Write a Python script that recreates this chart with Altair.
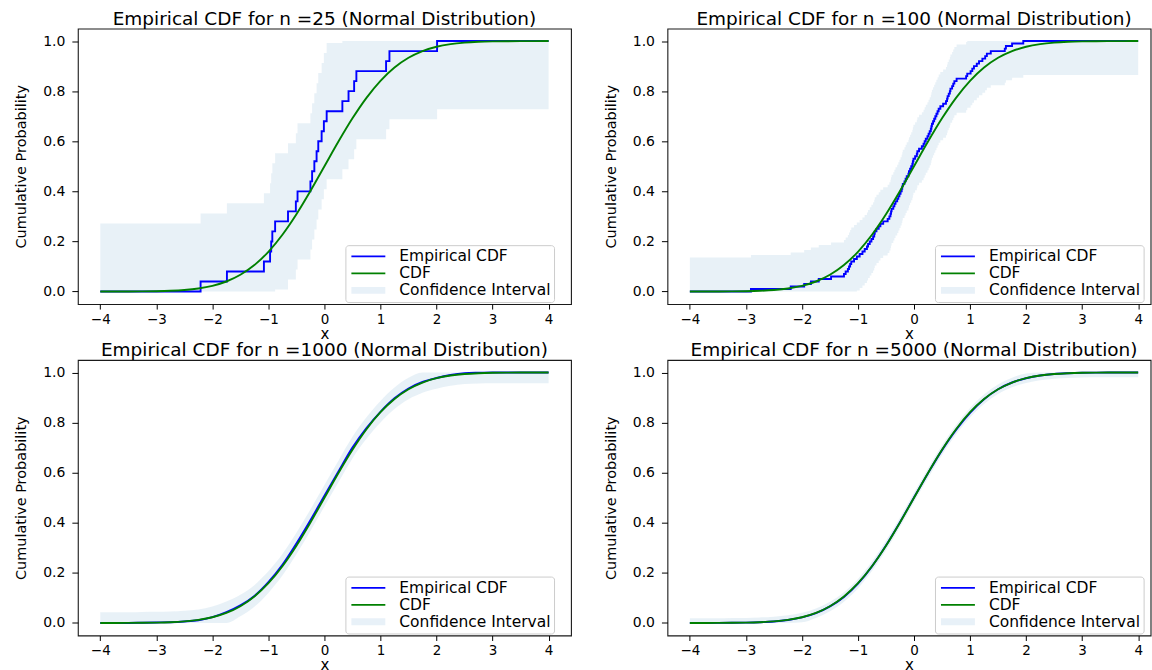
import altair as alt
import pandas as pd

# ------------------------------------------------------------------ data
SERIES = ["Empirical CDF", "CDF", "Confidence Interval"]
SERIES_COLORS = ["#0000ff", "#008000", "transparent"]
BAND_COLOR = "#1f77b4"
TITLES = [
    "Empirical CDF for n =25 (Normal Distribution)",
    "Empirical CDF for n =100 (Normal Distribution)",
    "Empirical CDF for n =1000 (Normal Distribution)",
    "Empirical CDF for n =5000 (Normal Distribution)",
]
X_TICKS = [-4, -3, -2, -1, 0, 1, 2, 3, 4]
Y_TICKS = [0.0, 0.2, 0.4, 0.6, 0.8, 1.0]

# smooth grid used for the theoretical CDF and the large-n panels
x_grid = [-4.0, -3.75, -3.5, -3.25, -3.0, -2.75, -2.5, -2.25, -2.0, -1.75, -1.5,
          -1.25, -1.0, -0.75, -0.5, -0.25, 0.0, 0.25, 0.5, 0.75, 1.0, 1.25, 1.5,
          1.75, 2.0, 2.25, 2.5, 2.75, 3.0, 3.25, 3.5, 3.75, 4.0]
cdf_grid = [0.00003, 0.00009, 0.00023, 0.00058, 0.00135, 0.00298, 0.00621, 0.01222,
            0.02275, 0.04006, 0.06681, 0.10565, 0.15866, 0.22663, 0.30854, 0.40129,
            0.5, 0.59871, 0.69146, 0.77337, 0.84134, 0.89435, 0.93319, 0.95994,
            0.97725, 0.98778, 0.99379, 0.99702, 0.99865, 0.99942, 0.99977, 0.99991,
            0.99997]

# n = 25 (step function)
x_25 = [-4.0, -2.21, -1.74, -1.08, -0.97, -0.95, -0.93, -0.88, -0.65, -0.51, -0.48,
        -0.25, -0.22, -0.18, -0.14, -0.11, -0.05, -0.01, 0.04,
        0.32, 0.43, 0.53, 0.57, 1.10, 1.16, 2.01, 4.0]
ecdf_25 = [0.0, 0.04, 0.08, 0.12, 0.16, 0.20, 0.24, 0.28, 0.32, 0.36, 0.40,
           0.44, 0.48, 0.52, 0.56, 0.60, 0.64, 0.68, 0.72,
           0.76, 0.80, 0.84, 0.88, 0.92, 0.96, 1.0, 1.0]
lo_25 = [0.0, 0.0, 0.0, 0.0, 0.0, 0.0, 0.0, 0.008, 0.048, 0.088, 0.128,
         0.168, 0.208, 0.248, 0.288, 0.328, 0.368, 0.408, 0.448,
         0.488, 0.528, 0.568, 0.608, 0.648, 0.688, 0.728, 0.728]
hi_25 = [0.272, 0.312, 0.352, 0.392, 0.432, 0.472, 0.512, 0.552, 0.592, 0.632, 0.672,
         0.712, 0.752, 0.792, 0.832, 0.872, 0.912, 0.952, 0.992,
         1.0, 1.0, 1.0, 1.0, 1.0, 1.0, 1.0, 1.0]

# n = 100 (step function)
x_100 = [-4.0,
         -2.91, -2.20, -1.96, -1.84, -1.70, -1.48, -1.25, -1.22, -1.18, -1.16,
         -1.14, -1.12, -1.07, -1.02, -0.97, -0.92, -0.88, -0.84, -0.82, -0.79,
         -0.76, -0.73, -0.71, -0.70, -0.67, -0.63, -0.60, -0.55, -0.47, -0.44,
         -0.42, -0.41, -0.40, -0.37, -0.35, -0.33, -0.30, -0.28, -0.26, -0.24,
         -0.22, -0.21, -0.20, -0.17, -0.15, -0.13, -0.10, -0.09, -0.07, -0.05,
         -0.03, -0.02, -0.01, 0.02, 0.05, 0.06, 0.09, 0.14, 0.17, 0.19,
         0.21, 0.24, 0.26, 0.28, 0.30, 0.31, 0.32, 0.34, 0.36, 0.38,
         0.40, 0.42, 0.44, 0.47, 0.52, 0.57, 0.59, 0.60, 0.62, 0.64,
         0.65, 0.68, 0.70, 0.72, 0.76, 0.93, 0.95, 1.01, 1.04, 1.07,
         1.12, 1.16, 1.22, 1.27, 1.30, 1.37, 1.62, 1.64, 1.75, 1.95,
         4.0]
ecdf_100 = [0.00,
            0.01, 0.02, 0.03, 0.04, 0.05, 0.06, 0.07, 0.08, 0.09, 0.10,
            0.11, 0.12, 0.13, 0.14, 0.15, 0.16, 0.17, 0.18, 0.19, 0.20,
            0.21, 0.22, 0.23, 0.24, 0.25, 0.26, 0.27, 0.28, 0.29, 0.30,
            0.31, 0.32, 0.33, 0.34, 0.35, 0.36, 0.37, 0.38, 0.39, 0.40,
            0.41, 0.42, 0.43, 0.44, 0.45, 0.46, 0.47, 0.48, 0.49, 0.50,
            0.51, 0.52, 0.53, 0.54, 0.55, 0.56, 0.57, 0.58, 0.59, 0.60,
            0.61, 0.62, 0.63, 0.64, 0.65, 0.66, 0.67, 0.68, 0.69, 0.70,
            0.71, 0.72, 0.73, 0.74, 0.75, 0.76, 0.77, 0.78, 0.79, 0.80,
            0.81, 0.82, 0.83, 0.84, 0.85, 0.86, 0.87, 0.88, 0.89, 0.90,
            0.91, 0.92, 0.93, 0.94, 0.95, 0.96, 0.97, 0.98, 0.99, 1.00,
            1.00]
lo_100 = [0.0,
          0.0, 0.0, 0.0, 0.0, 0.0, 0.0, 0.0, 0.0, 0.0, 0.0,
          0.0, 0.0, 0.0, 0.004, 0.014, 0.024, 0.034, 0.044, 0.054, 0.064,
          0.074, 0.084, 0.094, 0.104, 0.114, 0.124, 0.134, 0.144, 0.154, 0.164,
          0.174, 0.184, 0.194, 0.204, 0.214, 0.224, 0.234, 0.244, 0.254, 0.264,
          0.274, 0.284, 0.294, 0.304, 0.314, 0.324, 0.334, 0.344, 0.354, 0.364,
          0.374, 0.384, 0.394, 0.404, 0.414, 0.424, 0.434, 0.444, 0.454, 0.464,
          0.474, 0.484, 0.494, 0.504, 0.514, 0.524, 0.534, 0.544, 0.554, 0.564,
          0.574, 0.584, 0.594, 0.604, 0.614, 0.624, 0.634, 0.644, 0.654, 0.664,
          0.674, 0.684, 0.694, 0.704, 0.714, 0.724, 0.734, 0.744, 0.754, 0.764,
          0.774, 0.784, 0.794, 0.804, 0.814, 0.824, 0.834, 0.844, 0.854, 0.864,
          0.864]
hi_100 = [0.136,
          0.146, 0.156, 0.166, 0.176, 0.186, 0.196, 0.206, 0.216, 0.226, 0.236,
          0.246, 0.256, 0.266, 0.276, 0.286, 0.296, 0.306, 0.316, 0.326, 0.336,
          0.346, 0.356, 0.366, 0.376, 0.386, 0.396, 0.406, 0.416, 0.426, 0.436,
          0.446, 0.456, 0.466, 0.476, 0.486, 0.496, 0.506, 0.516, 0.526, 0.536,
          0.546, 0.556, 0.566, 0.576, 0.586, 0.596, 0.606, 0.616, 0.626, 0.636,
          0.646, 0.656, 0.666, 0.676, 0.686, 0.696, 0.706, 0.716, 0.726, 0.736,
          0.746, 0.756, 0.766, 0.776, 0.786, 0.796, 0.806, 0.816, 0.826, 0.836,
          0.846, 0.856, 0.866, 0.876, 0.886, 0.896, 0.906, 0.916, 0.926, 0.936,
          0.946, 0.956, 0.966, 0.976, 0.986, 0.996, 1.0, 1.0, 1.0, 1.0,
          1.0, 1.0, 1.0, 1.0, 1.0, 1.0, 1.0, 1.0, 1.0, 1.0,
          1.0]

# n = 1000 (on x_grid)
ecdf_1000 = [0.0, 0.0, 0.0, 0.001, 0.002, 0.003, 0.006, 0.011, 0.023, 0.043, 0.07,
             0.108, 0.163, 0.232, 0.317, 0.41, 0.508, 0.605, 0.70, 0.778, 0.843,
             0.897, 0.936, 0.962, 0.978, 0.99, 0.997, 0.999, 1.0, 1.0, 1.0, 1.0, 1.0]
lo_1000 = [0.0, 0.0, 0.0, 0.0, 0.0, 0.0, 0.0, 0.0, 0.0, 0.0, 0.027,
           0.065, 0.12, 0.189, 0.274, 0.367, 0.465, 0.562, 0.657, 0.735, 0.80,
           0.854, 0.893, 0.919, 0.935, 0.947, 0.954, 0.956, 0.957, 0.957, 0.957, 0.957, 0.957]
hi_1000 = [0.043, 0.043, 0.043, 0.044, 0.045, 0.046, 0.049, 0.054, 0.066, 0.086, 0.113,
           0.151, 0.206, 0.275, 0.36, 0.453, 0.551, 0.648, 0.743, 0.821, 0.886,
           0.94, 0.979, 1.0, 1.0, 1.0, 1.0, 1.0, 1.0, 1.0, 1.0, 1.0, 1.0]

# n = 5000 (on x_grid)
ecdf_5000 = [0.0, 0.0, 0.0002, 0.0006, 0.0014, 0.003, 0.006, 0.012, 0.022, 0.039, 0.066,
             0.104, 0.157, 0.226, 0.309, 0.402, 0.501, 0.598, 0.69, 0.771, 0.839,
             0.893, 0.933, 0.96, 0.977, 0.988, 0.994, 0.997, 0.9988, 0.9996, 1.0, 1.0, 1.0]
lo_5000 = [0.0, 0.0, 0.0, 0.0, 0.0, 0.0, 0.0, 0.0, 0.003, 0.02, 0.047,
           0.085, 0.138, 0.207, 0.29, 0.383, 0.482, 0.579, 0.671, 0.752, 0.82,
           0.874, 0.914, 0.941, 0.958, 0.969, 0.975, 0.978, 0.98, 0.981, 0.981, 0.981, 0.981]
hi_5000 = [0.019, 0.019, 0.019, 0.02, 0.02, 0.022, 0.025, 0.031, 0.041, 0.058, 0.085,
           0.123, 0.176, 0.245, 0.328, 0.421, 0.52, 0.617, 0.709, 0.79, 0.858,
           0.912, 0.952, 0.979, 0.996, 1.0, 1.0, 1.0, 1.0, 1.0, 1.0, 1.0, 1.0]

# ------------------------------------------------------------------ style
FONT = "DejaVu Sans"
PANEL_H = 276
LEFT_W, RIGHT_W = 494, 484
LEFT_XMAX, RIGHT_XMAX = 4.4, 4.222

SYM_SHAPE = {"expr": "datum.value === 'Confidence Interval' ? 'M-1,-0.2H1V0.2H-1Z' : 'stroke'"}
SYM_FILL = {"expr": "datum.value === 'Confidence Interval' ? '#e8f1f8' : 'transparent'"}


def panel(title, band_x, lo, hi, ecdf_x, ecdf, step, width, xmax, dx):
    band_df = pd.DataFrame({"x": band_x, "lo": lo, "hi": hi})
    ecdf_df = pd.DataFrame({"x": ecdf_x, "y": ecdf, "series": SERIES[0]})
    cdf_df = pd.DataFrame({"x": x_grid, "y": cdf_grid, "series": SERIES[1]})

    xs = alt.Scale(domain=[-4.4, xmax], nice=False, zero=False)
    ys = alt.Scale(domain=[-0.05, 1.05], nice=False, zero=False)
    xaxis = alt.Axis(values=X_TICKS, format="d", title="x", tickSize=5, labelPadding=3,
                     titlePadding=1, labelFontSize=13.5, titleFontSize=15)
    yaxis = alt.Axis(values=Y_TICKS, format=".1f", title="Cumulative Probability",
                     tickSize=6, labelPadding=7, titlePadding=14, labelFontSize=14,
                     titleFontSize=14.5)
    legend = alt.Legend(
        title=None, orient="none", legendX=268, legendY=217,
        symbolType=SYM_SHAPE, symbolFillColor=SYM_FILL, symbolOpacity=1,
        symbolSize=1156, symbolStrokeWidth=1.8,
        symbolOffset=2, clipHeight=16.5, rowPadding=0, labelOffset=13,
        labelFont=FONT, labelFontSize=15.5, labelColor="black",
        padding=3, fillColor="rgba(255,255,255,0.8)", strokeColor="#cccccc",
        cornerRadius=3,
    )
    stroke = alt.Stroke("series:N", scale=alt.Scale(domain=SERIES, range=SERIES_COLORS),
                        legend=legend)

    interp = "step-after" if step else "monotone"
    band = alt.Chart(band_df).mark_area(color=BAND_COLOR, opacity=0.1, interpolate=interp).encode(
        x=alt.X("x:Q", scale=xs, axis=xaxis),
        y=alt.Y("lo:Q", scale=ys, axis=yaxis),
        y2="hi:Q",
    )
    line_e = alt.Chart(ecdf_df).mark_line(strokeWidth=1.9, interpolate=interp).encode(
        x=alt.X("x:Q", scale=xs), y=alt.Y("y:Q", scale=ys), stroke=stroke,
    )
    line_c = alt.Chart(cdf_df).mark_line(strokeWidth=1.9, interpolate="monotone").encode(
        x=alt.X("x:Q", scale=xs), y=alt.Y("y:Q", scale=ys), stroke=stroke,
    )
    return alt.layer(band, line_e, line_c).properties(
        width=width, height=PANEL_H,
        title=alt.Title(title, frame="group", anchor="middle", offset=0.5,
                        fontSize=18.5, font=FONT, fontWeight="normal", color="black",
                        dx=dx),
    )


p1 = panel(TITLES[0], x_25, lo_25, hi_25, x_25, ecdf_25, True, LEFT_W, LEFT_XMAX, 0)
p2 = panel(TITLES[1], x_100, lo_100, hi_100, x_100, ecdf_100, True, RIGHT_W, RIGHT_XMAX, 5)
p3 = panel(TITLES[2], x_grid, lo_1000, hi_1000, x_grid, ecdf_1000, False, LEFT_W, LEFT_XMAX, 0)
p4 = panel(TITLES[3], x_grid, lo_5000, hi_5000, x_grid, ecdf_5000, False, RIGHT_W, RIGHT_XMAX, 5)

res = dict(stroke="independent", x="independent", y="independent")

chart = (
    alt.concat(p1, p2, p3, p4, columns=2, bounds="flush",
               spacing={"row": 56, "column": 96.6})
    .resolve_scale(**res)
    .resolve_legend(stroke="independent")
    .properties(padding={"left": 13, "top": 8, "right": 0, "bottom": 0})
    .configure_view(stroke="#1a1a1a", strokeWidth=1.1)
    .configure_axis(domain=False, grid=False, tickColor="#000", tickWidth=1,
                    labelColor="#000", titleColor="#000", labelFont=FONT,
                    titleFont=FONT, titleFontWeight="normal", labelFlush=False,
                    labelOverlap=False)
)

chart.save("out.html", embed_options={"renderer": "svg", "actions": False})
